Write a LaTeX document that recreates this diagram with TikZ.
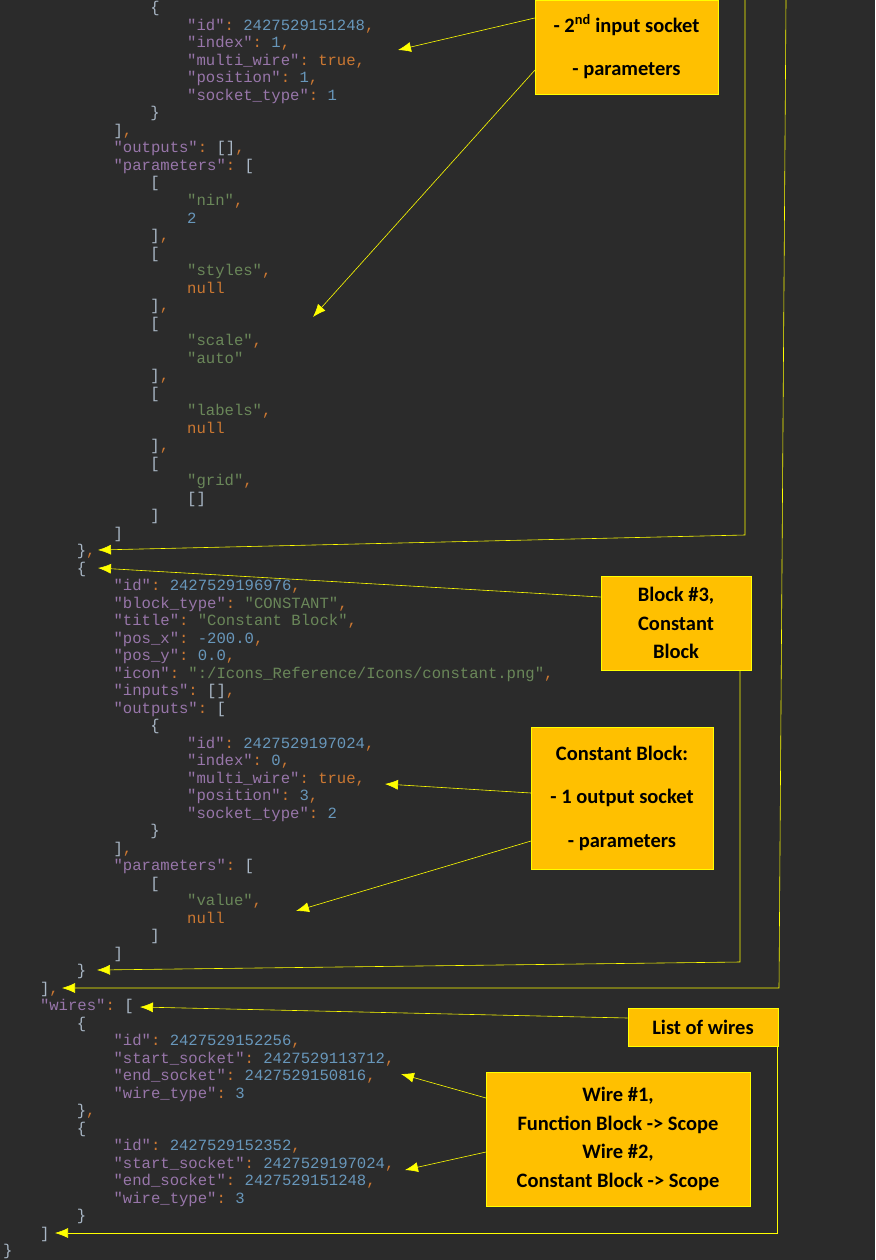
\documentclass[tikz,border=0pt]{standalone}
\usepackage{fontspec}
\setmainfont{Carlito}
\setmonofont{Liberation Mono}
\usetikzlibrary{arrows.meta}
\definecolor{bg}{HTML}{2B2B2B}
\definecolor{jkey}{HTML}{9876AA}
\definecolor{jpun}{HTML}{CC7832}
\definecolor{jnum}{HTML}{6897BB}
\definecolor{jstr}{HTML}{6A8759}
\definecolor{jbr}{HTML}{A9B7C6}
\definecolor{boxfill}{HTML}{FFC000}
\definecolor{ylw}{HTML}{FFFF00}
\newcommand\jk[1]{\textcolor{jkey}{"#1"}\textcolor{jpun}{:} }
\newcommand\jn[1]{\textcolor{jnum}{#1}}
\newcommand\js[1]{\textcolor{jstr}{"#1"}}
\newcommand\jo[1]{\textcolor{jpun}{#1}}
\newcommand\jb[1]{\textcolor{jbr}{#1}}
\newcommand\jcm{\textcolor{jpun}{,}}
\newcommand\jl[3]{\node[code] (l#2) at ({3+36.8*#1},{13+17.5*#2}) {#3};}
\begin{document}
\begin{tikzpicture}[x=1pt,y=-1pt,
  code/.style={anchor=base west,inner sep=0pt,font=\ttfamily\fontsize{15.6}{17}\selectfont},
  note/.style={fill=boxfill,draw=ylw,line width=0.6pt,font=\bfseries\fontsize{20.5}{28.5}\selectfont,align=center,text=black,inner sep=0pt},
  ar/.style={draw=ylw,line width=0.6pt,-{Latex[length=13pt,width=10pt]}},
  ln/.style={draw=ylw,line width=0.6pt}]
\useasboundingbox[fill=bg] (0,0) rectangle (875,1260);
\jl4{0}{\jb{\{}}
\jl5{1}{\jk{id}\jn{2427529151248}\jcm}
\jl5{2}{\jk{index}\jn{1}\jcm}
\jl5{3}{\jk{multi\_wire}\jo{true,}}
\jl5{4}{\jk{position}\jn{1}\jcm}
\jl5{5}{\jk{socket\_type}\jn{1}}
\jl4{6}{\jb{\}}}
\jl3{7}{\jb{]}\jcm}
\jl3{8}{\jk{outputs}\jb{[]}\jcm}
\jl3{9}{\jk{parameters}\jb{[}}
\jl4{10}{\jb{[}}
\jl5{11}{\js{nin}\jcm}
\jl5{12}{\jn{2}}
\jl4{13}{\jb{]}\jcm}
\jl4{14}{\jb{[}}
\jl5{15}{\js{styles}\jcm}
\jl5{16}{\jo{null}}
\jl4{17}{\jb{]}\jcm}
\jl4{18}{\jb{[}}
\jl5{19}{\js{scale}\jcm}
\jl5{20}{\js{auto}}
\jl4{21}{\jb{]}\jcm}
\jl4{22}{\jb{[}}
\jl5{23}{\js{labels}\jcm}
\jl5{24}{\jo{null}}
\jl4{25}{\jb{]}\jcm}
\jl4{26}{\jb{[}}
\jl5{27}{\js{grid}\jcm}
\jl5{28}{\jb{[]}}
\jl4{29}{\jb{]}}
\jl3{30}{\jb{]}}
\jl2{31}{\jb{\}}\jcm}
\jl2{32}{\jb{\{}}
\jl3{33}{\jk{id}\jn{2427529196976}\jcm}
\jl3{34}{\jk{block\_type}\js{CONSTANT}\jcm}
\jl3{35}{\jk{title}\js{Constant Block}\jcm}
\jl3{36}{\jk{pos\_x}\jn{-200.0}\jcm}
\jl3{37}{\jk{pos\_y}\jn{0.0}\jcm}
\jl3{38}{\jk{icon}\js{:/Icons\_Reference/Icons/constant.png}\jcm}
\jl3{39}{\jk{inputs}\jb{[]}\jcm}
\jl3{40}{\jk{outputs}\jb{[}}
\jl4{41}{\jb{\{}}
\jl5{42}{\jk{id}\jn{2427529197024}\jcm}
\jl5{43}{\jk{index}\jn{0}\jcm}
\jl5{44}{\jk{multi\_wire}\jo{true,}}
\jl5{45}{\jk{position}\jn{3}\jcm}
\jl5{46}{\jk{socket\_type}\jn{2}}
\jl4{47}{\jb{\}}}
\jl3{48}{\jb{]}\jcm}
\jl3{49}{\jk{parameters}\jb{[}}
\jl4{50}{\jb{[}}
\jl5{51}{\js{value}\jcm}
\jl5{52}{\jo{null}}
\jl4{53}{\jb{]}}
\jl3{54}{\jb{]}}
\jl2{55}{\jb{\}}}
\jl1{56}{\jb{]}\jcm}
\jl1{57}{\jk{wires}\jb{[}}
\jl2{58}{\jb{\{}}
\jl3{59}{\jk{id}\jn{2427529152256}\jcm}
\jl3{60}{\jk{start\_socket}\jn{2427529113712}\jcm}
\jl3{61}{\jk{end\_socket}\jn{2427529150816}\jcm}
\jl3{62}{\jk{wire\_type}\jn{3}}
\jl2{63}{\jb{\}}\jcm}
\jl2{64}{\jb{\{}}
\jl3{65}{\jk{id}\jn{2427529152352}\jcm}
\jl3{66}{\jk{start\_socket}\jn{2427529197024}\jcm}
\jl3{67}{\jk{end\_socket}\jn{2427529151248}\jcm}
\jl3{68}{\jk{wire\_type}\jn{3}}
\jl2{69}{\jb{\}}}
\jl1{70}{\jb{]}}
\jl0{71}{\jb{\}}}
% notes
\node[note,minimum width=183pt,minimum height=94pt] (n1) at (626.5,47) {- 2\textsuperscript{nd} input socket\\[15pt]- parameters};
\node[note,minimum width=150pt,minimum height=94pt] (n2) at (676,623) {Block \#3,\\Constant\\Block};
\node[note,minimum width=182pt,minimum height=142pt] (n3) at (622,798) {Constant Block:\\[15pt]- 1 output socket\\[15pt]- parameters};
\node[note,minimum width=150pt,minimum height=38pt] (n4) at (703,1027) {List of wires};
\node[note,minimum width=264pt,minimum height=134pt] (n5) at (618,1139) {Wire \#1,\\Function Block -> Scope\\Wire \#2,\\Constant Block -> Scope};
% coordinates
\coordinate (t1) at (398,50);
\coordinate (t2) at (313,317);
\coordinate (t3) at (98,550);
\coordinate (t4) at (62,988);
\coordinate (t5) at (98,568);
\coordinate (t6) at (97,970);
\coordinate (t7) at (385,784);
\coordinate (t8) at (296,911);
\coordinate (t9) at (140,1007);
\coordinate (t10) at (55,1233);
\coordinate (t11) at (401,1074);
\coordinate (t12) at (405,1170);
\coordinate (u1) at (745,0);
\coordinate (u2) at (786,0);
\draw[ar] (n1.west |- 0,18) -- (t1);
\draw[ar] (535,70) -- (t2);
\draw[ar] (u1) -- (745,535) -- (t3);
\draw[ar] (u2) -- (779,988) -- (t4);
\draw[ar] (n2.west |- 0,597) -- (t5);
\draw[ar] (740,670) -- (740,962) -- (t6);
\draw[ar] (531,793) -- (t7);
\draw[ar] (531,841) -- (t8);
\draw[ar] (n4.west |- 0,1018) -- (t9);
\draw[ar] (777,1046) -- (777,1233) -- (t10);
\draw[ar] (486,1098) -- (t11);
\draw[ar] (486,1152) -- (t12);
\end{tikzpicture}
\end{document}
